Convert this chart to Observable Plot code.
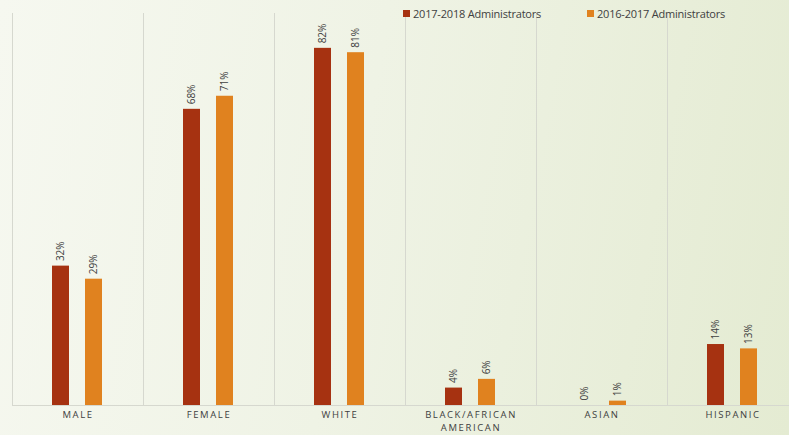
<!DOCTYPE html>
<html>
<head>
<meta charset="utf-8">
<script src="https://cdn.jsdelivr.net/npm/d3@7"></script>
<script src="https://cdn.jsdelivr.net/npm/@observablehq/plot@0.6"></script>
<style>
  html, body { margin: 0; padding: 0; overflow: hidden; }
  body { width: 789px; height: 435px; }
  #wrap {
    position: relative; width: 789px; height: 435px; overflow: hidden;
    background: linear-gradient(100deg, #f6f8f0 0%, #eff3e5 45%, #e4ebd2 100%);
    font-family: "Open Sans", sans-serif;
  }
  #legend {
    position: absolute; top: 6px; left: 403px; font-size: 11px; color: #404040;
    letter-spacing: -0.2px; z-index: 2;
  }
  #legend .item { display: flex; align-items: center; }
  #legend .sw { width: 7px; height: 7px; min-width: 7px; flex-shrink: 0; margin-right: 3px; display: inline-block; }
  #wrap svg { position: absolute; left: 0; top: 0; background: none; overflow: visible; max-width: none !important; width: 798px; height: 435px; }
  [aria-label="fx-axis tick label"] text { letter-spacing: 1.6px; }
</style>
</head>
<body>
<div id="wrap"><div id="legend"></div></div>
<script>
const categories = ["MALE", "FEMALE", "WHITE", "BLACK/AFRICAN\nAMERICAN", "ASIAN", "HISPANIC"];
const seriesNames = ["2017-2018 Administrators", "2016-2017 Administrators"];
const values2017_2018 = [32, 68, 82, 4, 0, 14];
const values2016_2017 = [29, 71, 81, 6, 1, 13];
const seriesColors = ["#a63211", "#e0821f"];

const data = [];
categories.forEach((c, i) => {
  data.push({category: c, series: seriesNames[0], value: values2017_2018[i]});
  data.push({category: c, series: seriesNames[1], value: values2016_2017[i]});
});

const chart = Plot.plot({
  width: 798,
  height: 435,
  marginLeft: 11,
  marginRight: 0,
  marginTop: 13,
  marginBottom: 30,
  style: {background: "none", fontFamily: "Open Sans, sans-serif", maxWidth: "none"},
  fx: {domain: categories, paddingInner: 0, paddingOuter: 0, axis: null},
  x: {domain: seriesNames, paddingInner: 0.48, paddingOuter: 1.2, axis: null},
  y: {domain: [0, 90], axis: null},
  color: {domain: seriesNames, range: seriesColors},
  marks: [
    Plot.frame({anchor: "left", stroke: "#d6d8cf", strokeWidth: 1}),
    Plot.ruleY([0], {stroke: "#d6d8cf", strokeWidth: 1}),
    Plot.barY(data, {fx: "category", x: "series", y: "value", fill: "series"}),
    Plot.text(data, {
      fx: "category", x: "series", y: "value",
      text: d => d.value + "%",
      rotate: -90, textAnchor: "start", dy: -5,
      fontSize: 10, fill: "#404040"
    }),
    Plot.axisFx({
      anchor: "bottom", tickSize: 0, tickPadding: 3, label: null,
      fontSize: 9.5, color: "#404040", lineHeight: 1.4
    })
  ]
});
document.getElementById("wrap").appendChild(chart);

const legend = document.getElementById("legend");
const offsets = [0, 184];
seriesNames.forEach((s, i) => {
  const it = document.createElement("div");
  it.className = "item";
  it.style.position = "absolute";
  it.style.left = offsets[i] + "px";
  it.style.whiteSpace = "nowrap";
  it.innerHTML = `<span class="sw" style="background:${seriesColors[i]}"></span><span>${s}</span>`;
  legend.appendChild(it);
});
</script>
</body>
</html>
